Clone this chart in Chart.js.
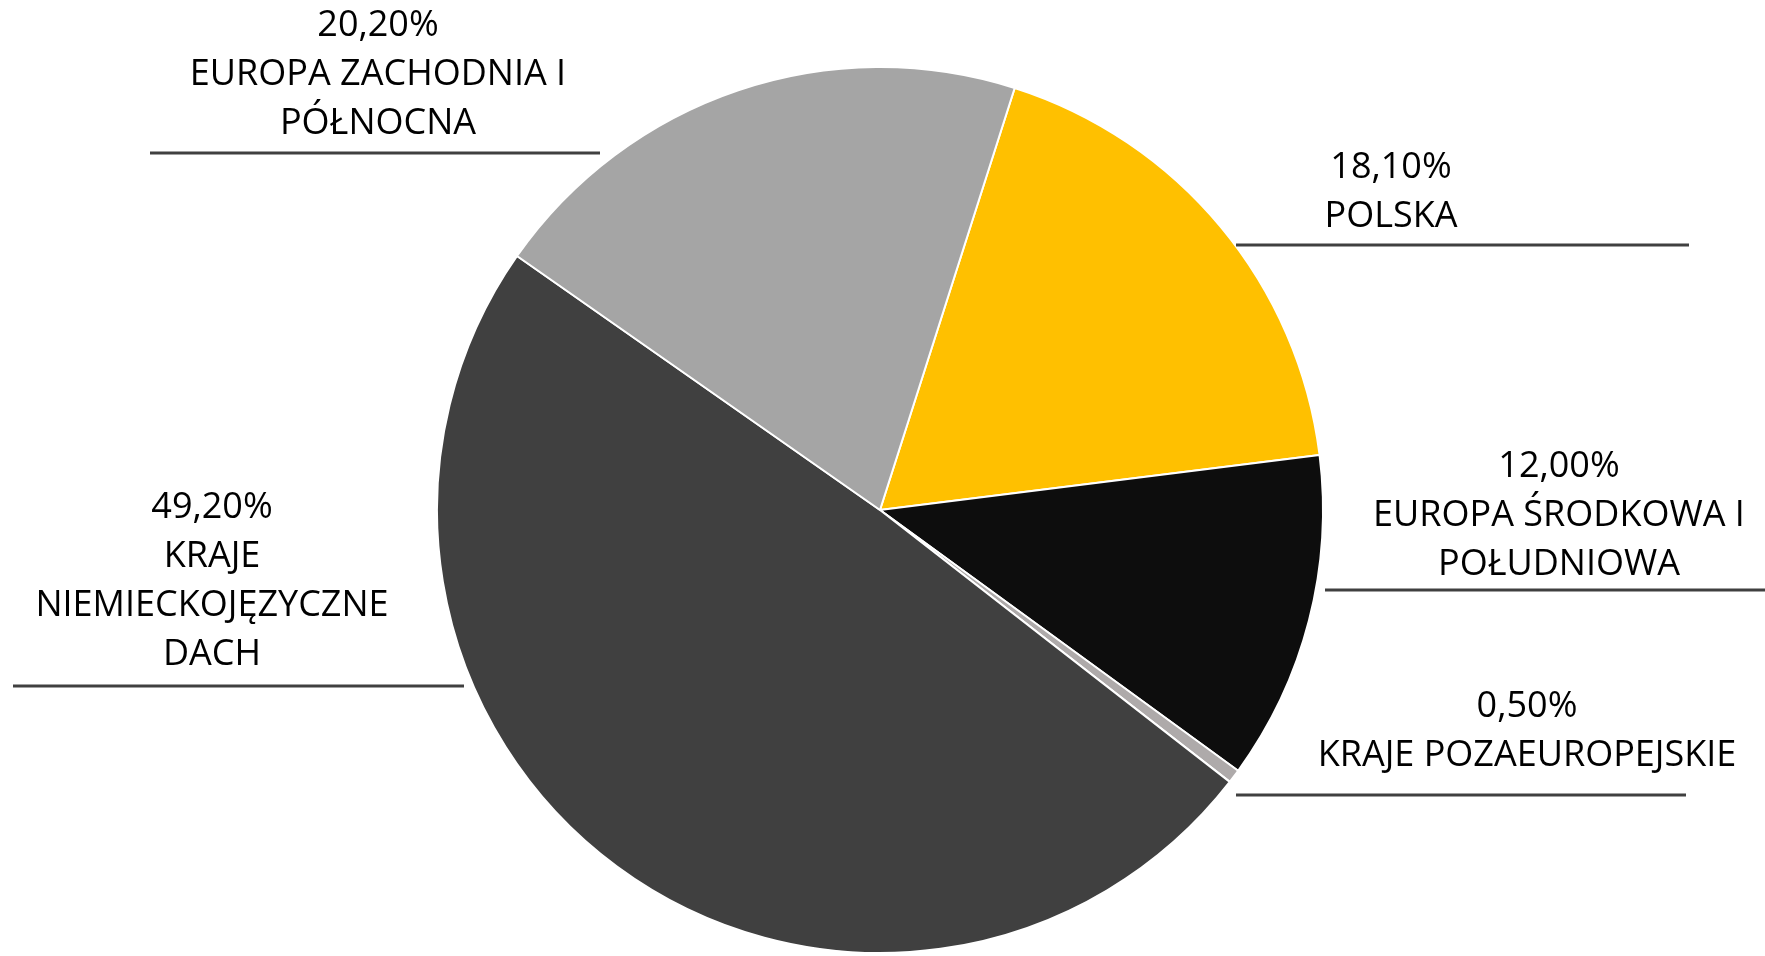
<!DOCTYPE html>
<html>
<head>
<meta charset="utf-8">
<script src="https://cdn.jsdelivr.net/npm/chart.js@4"></script>
<style>
  html, body { margin: 0; padding: 0; background: #fff; }
  #wrap { width: 1765px; height: 956px; }
</style>
</head>
<body>
<div id="wrap"><canvas id="myChart"></canvas></div>
<script>
const regions = [
  ['POLSKA'],
  ['EUROPA ŚRODKOWA I', 'POŁUDNIOWA'],
  ['KRAJE POZAEUROPEJSKIE'],
  ['KRAJE', 'NIEMIECKOJĘZYCZNE', 'DACH'],
  ['EUROPA ZACHODNIA I', 'PÓŁNOCNA'],
];
const shares = [18.1, 12.0, 0.5, 49.2, 20.2];
const sliceColors = ['#FFC000', '#0D0D0D', '#AEAAAA', '#404040', '#A5A5A5'];

// label placement: text centre x, first line y, underline y and x range
const labelLayout = [
  { x: 1391, y: 168, lineY: 245, x1: 1236, x2: 1689 },
  { x: 1559, y: 467, lineY: 590, x1: 1325, x2: 1765 },
  { x: 1527, y: 707, lineY: 795, x1: 1236, x2: 1686 },
  { x: 212, y: 508, lineY: 686, x1: 13, x2: 464 },
  { x: 378, y: 26, lineY: 153, x1: 150, x2: 600 },
];

const calloutLabels = {
  id: 'calloutLabels',
  afterDraw(chart) {
    const { ctx, data } = chart;
    ctx.save();
    ctx.font = '36px "Open Sans"';
    ctx.textAlign = 'center';
    ctx.textBaseline = 'middle';
    ctx.fillStyle = '#000';
    ctx.strokeStyle = '#404040';
    ctx.lineWidth = 3;

    labelLayout.forEach((pos, i) => {
      const lines = [shares[i].toFixed(2).replace('.', ',') + '%', ...data.labels[i]];
      lines.forEach((t, j) => ctx.fillText(t, pos.x, pos.y + j * 49));

      ctx.beginPath();
      ctx.moveTo(pos.x1, pos.lineY);
      ctx.lineTo(pos.x2, pos.lineY);
      ctx.stroke();
    });
    ctx.restore();
  },
};

const config = {
  type: 'pie',
  data: {
    labels: regions,
    datasets: [{
      data: shares,
      backgroundColor: sliceColors,
      borderColor: '#ffffff',
      borderWidth: 2,
    }],
  },
  options: {
    responsive: true,
    maintainAspectRatio: false,
    animation: false,
    rotation: 17.7,
    layout: {
      padding: { left: 436, right: 441, top: 66, bottom: 2 },
    },
    plugins: {
      legend: { display: false },
      tooltip: { enabled: false },
    },
  },
  plugins: [calloutLabels],
};

const myChart = new Chart(document.getElementById('myChart'), config);
</script>
</body>
</html>
